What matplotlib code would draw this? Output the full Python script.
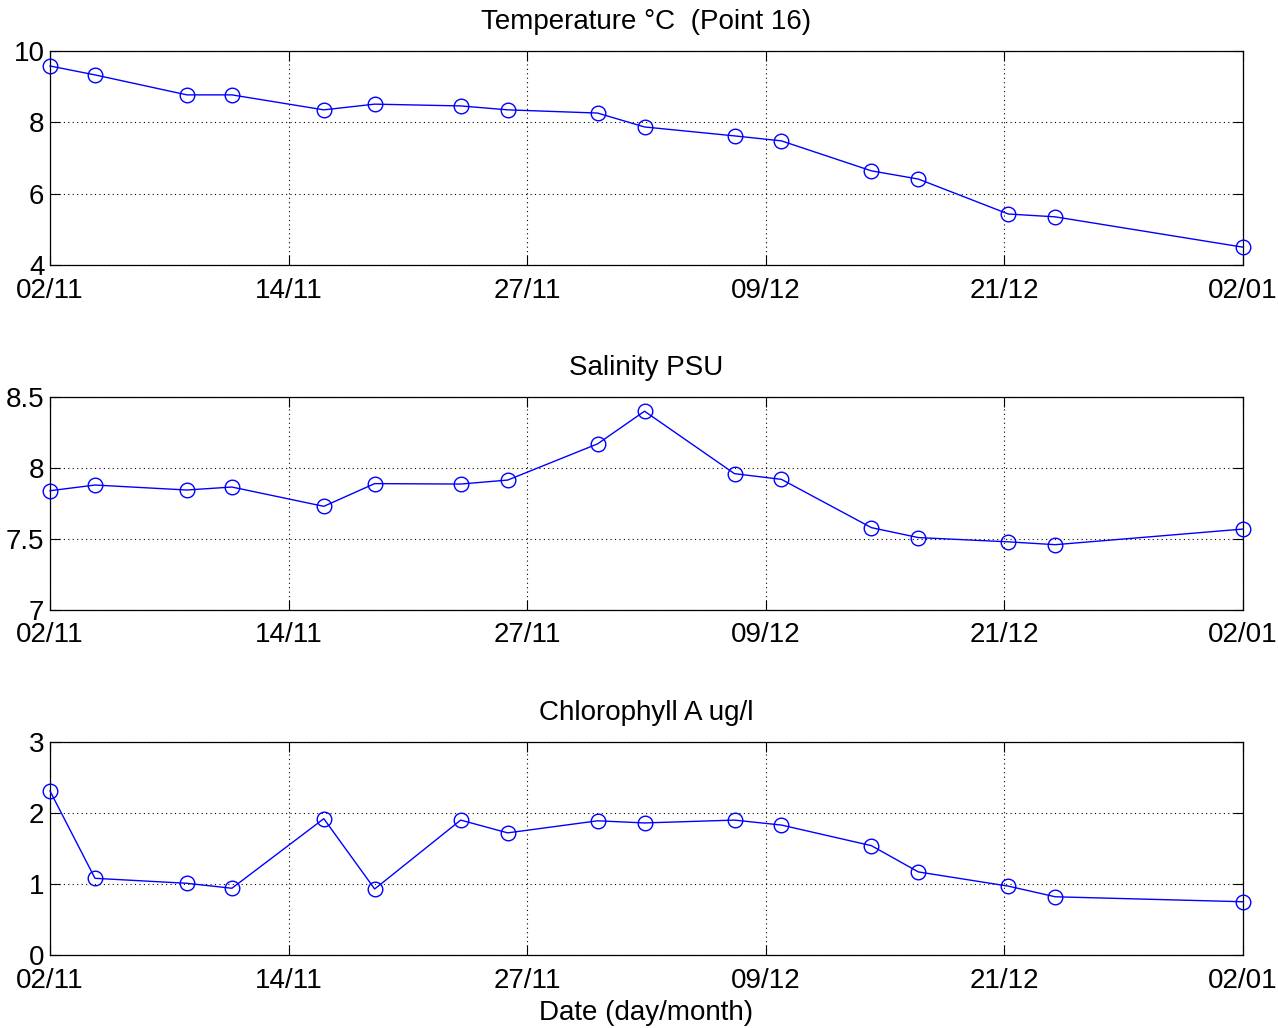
import matplotlib
matplotlib.use("Agg")
import matplotlib.pyplot as plt

plt.rcParams['font.family'] = ['Liberation Sans', 'DejaVu Sans']

# sampling days counted from 02/11
days = [0, 2.3, 7.0, 9.3, 14.0, 16.6, 21.0, 23.4, 28.0, 30.4, 35.0, 37.4, 42.0, 44.4, 49.0, 51.4, 61.0]

temperature = [9.58, 9.33, 8.77, 8.77, 8.35, 8.51, 8.46, 8.35, 8.26, 7.87, 7.62, 7.48,
               6.64, 6.41, 5.43, 5.35, 4.50]
salinity = [7.84, 7.88, 7.845, 7.866, 7.73, 7.89, 7.887, 7.915, 8.17, 8.40, 7.96, 7.92,
            7.58, 7.51, 7.48, 7.46, 7.57]
chlorophyll = [2.31, 1.08, 1.01, 0.94, 1.92, 0.93, 1.90, 1.72, 1.89, 1.86, 1.90, 1.83,
               1.54, 1.17, 0.97, 0.82, 0.75]

date_ticks = [0, 12.2, 24.4, 36.6, 48.8, 61.0]
date_labels = ['02/11', '14/11', '27/11', '09/12', '21/12', '02/01']

titles = ['Temperature \u00b0C  (Point 16)', 'Salinity PSU', 'Chlorophyll A ug/l']
ylims = [(4, 10), (7, 8.5), (0, 3)]
yticks = [[4, 6, 8, 10], [7, 7.5, 8, 8.5], [0, 1, 2, 3]]
yticklabels = [['4', '6', '8', '10'], ['7', '7.5', '8', '8.5'], ['0', '1', '2', '3']]
series = [temperature, salinity, chlorophyll]

fig = plt.figure(figsize=(12.78, 10.28), dpi=100)
W, H = 1278, 1028
boxes = [(51, 265), (397, 610), (742, 955)]

for i, (top, bot) in enumerate(boxes):
    ax = fig.add_axes([50 / W, 1 - bot / H, (1243 - 50) / W, (bot - top) / H])
    ax.plot(days, series[i], color='#0000ff', linewidth=1.0, marker='o',
            markersize=10.5, markerfacecolor='none', markeredgecolor='#0000ff',
            markeredgewidth=1.0, clip_on=False, zorder=3)
    ax.set_xlim(0, 61)
    ax.set_ylim(*ylims[i])
    ax.set_xticks(date_ticks)
    ax.set_xticklabels(date_labels)
    ax.set_yticks(yticks[i])
    ax.set_yticklabels(yticklabels[i])
    ax.grid(True, color='black', linestyle=(0, (1, 3)), linewidth=0.8)
    ax.tick_params(direction='in', length=7, width=0.8, top=True, right=True,
                   labelsize=20, pad=4, colors='black')
    ax.tick_params(axis='x', pad=9)
    for s in ax.spines.values():
        s.set_linewidth(0.9)
        s.set_color('black')
    ax.set_title(titles[i], fontsize=20, pad=16)
    if i == 2:
        ax.set_xlabel('Date (day/month)', fontsize=20, labelpad=5)

fig.savefig('out.png', dpi=100, facecolor='white')
